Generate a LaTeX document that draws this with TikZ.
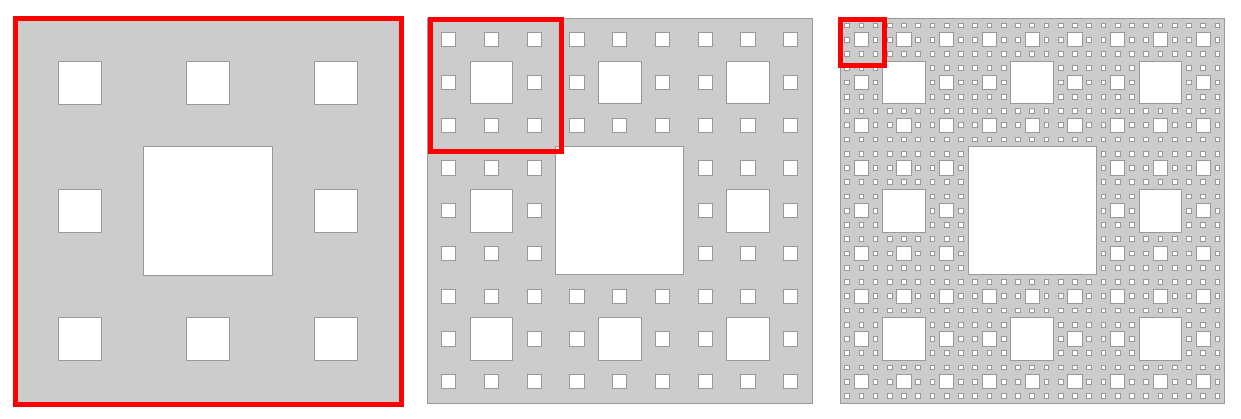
\documentclass[tikz,border=0pt]{standalone}
\definecolor{carpetgray}{HTML}{CCCCCC}
\definecolor{edgegray}{HTML}{999999}
\definecolor{framered}{HTML}{FF0000}
\tikzset{
  panel/.style={fill=carpetgray, draw=edgegray, line width=0.8pt},
  hole/.style={fill=white, draw=edgegray, line width=1pt},
  zoomframe/.style={draw=framered, line width=5pt}
}
% #1 x0, #2 y0, #3 size, #4 depth
\newcommand\drawcarpet[4]{%
  \draw[panel] (#1,#2) rectangle ++(#3,#3);
  \foreach \k in {1,...,#4}{%
    \pgfmathtruncatemacro\m{3^(\k-1)}%
    \pgfmathsetmacro\c{#3/\m}%
    \pgfmathtruncatemacro\mm{\m-1}%
    \foreach \a in {0,...,\mm}{%
      \foreach \b in {0,...,\mm}{%
        \pgfmathtruncatemacro\rem{(mod(\a,3)==1 && mod(\b,3)==1) || (mod(div(\a,3),3)==1 && mod(div(\b,3),3)==1) || (mod(div(\a,9),3)==1 && mod(div(\b,9),3)==1)}%
        \ifnum\rem=0
          \draw[hole] (#1+\a*\c+\c/3, #2+\b*\c+\c/3) rectangle ++(\c/3,\c/3);
        \fi
      }%
    }%
  }%
}
\begin{document}
\begin{tikzpicture}[x=1pt,y=-1pt]
\useasboundingbox (0,0) rectangle (1241,419);
\drawcarpet{15.7}{18.7}{384.5}{2}
\drawcarpet{427.5}{18.5}{384.5}{3}
\drawcarpet{840}{18.5}{384.5}{4}
\draw[zoomframe] (15,19) rectangle (401.5,404);
\draw[zoomframe] (430,20) rectangle (561,152);
\draw[zoomframe] (840,20) rectangle (884,66);
\end{tikzpicture}
\end{document}
